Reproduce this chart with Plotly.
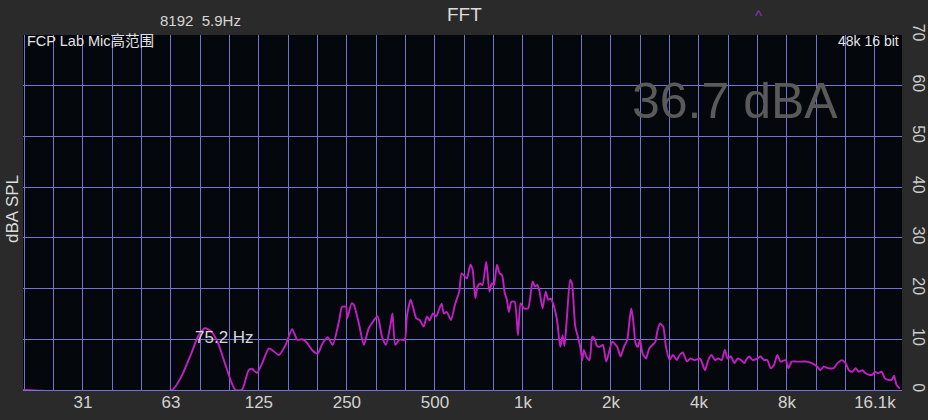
import plotly.graph_objects as go

# ---- data ----
freq_hz = [19.5, 63, 67.8, 73.4, 77.3, 81.7, 86.0, 90.7, 95.6, 101, 103.8, 109.3, 115.3, 118.2, 123,
           128.3, 135.2, 140.7, 146.4, 154.3, 162.4, 169, 175.7, 182.7, 190, 198.5, 206.4, 214.8, 223.4,
           235.4, 240.6, 248.3, 250.6, 259.5, 264, 274.7, 285.7, 297, 318.3, 329.5, 339.9, 353.7, 358,
           366, 377.5, 394, 401, 413, 420.5, 432, 443.5, 457.4, 469.6, 479.6, 492.3, 505.5, 513, 527,
           536.5, 548.5, 567.5, 585.5, 605.5, 617, 635, 643.5, 661, 673, 687.5, 699.5, 715, 727.5, 749,
           768.5, 783.5, 796, 815, 833, 848, 866.5, 881.5, 895.5, 913, 937, 961.5, 982, 1008, 1042, 1079,
           1099, 1119, 1137, 1168, 1196, 1220, 1244, 1267, 1308, 1342, 1367, 1388, 1415, 1451, 1472, 1510,
           1537, 1571, 1596, 1616, 1647, 1690, 1727, 1758, 1790, 1828, 1877, 1928, 1979, 2021, 2102, 2158,
           2216, 2274, 2317, 2348, 2383, 2430, 2474, 2515, 2566, 2636, 2704, 2777, 2837, 2888, 2943, 3019,
           3085, 3175, 3258, 3362, 3436, 3525, 3639, 3737, 3867, 4032, 4085, 4196, 4305, 4420, 4540, 4656,
           4784, 4908, 5012, 5147, 5287, 5423, 5569, 5720, 5796, 5947, 6103, 6333, 6502, 6674, 6852, 7036,
           7220, 7417, 7607, 7918, 8095, 8304, 8632, 8984, 9344, 9720, 10160, 10400, 10675, 11108, 11552,
           11924, 12338, 12700, 13030, 13386, 13741, 14097, 14491, 14872, 15253, 15672, 16000, 16416,
           16864, 17312, 17760, 18256, 18592, 18976, 19488]
level_db = [0, 0, 2.6, 7.2, 10.5, 12.2, 11.5, 9.2, 5.3, 1.3, 0, 0, 3.9, 4.2, 3.4,
            5.3, 8.2, 7.6, 6.9, 8.9, 12.0, 9.9, 10.0, 9.3, 7.9, 7.2, 9.2, 10.4, 8.9,
            13.8, 16.4, 16.4, 14.1, 17.1, 16.8, 13.1, 8.9, 12.2, 14.5, 10.5, 8.9, 13.4, 15.1,
            8.9, 9.9, 9.9, 14.5, 17.8, 16.4, 14.1, 13.8, 12.5, 14.5, 13.7, 15.1, 14.5, 15.4, 17.0,
            15.1, 15.4, 13.8, 16.8, 19.4, 23.0, 22.3, 22.0, 24.7, 23.7, 18.1, 20.4, 21.0, 20.7, 25.3,
            19.4, 21.0, 20.7, 24.7, 23.0, 22.7, 19.1, 17.8, 15.4, 17.4, 17.4, 10.8, 17.1, 16.1, 16.1, 21.4,
            20.4, 20.7, 19.7, 16.1, 19.4, 17.8, 18.0, 17.1, 13.8, 8.5, 10.8, 8.7, 14.5, 21.7, 21.0, 12.5,
            10.8, 8.5, 5.9, 7.9, 6.6, 5.9, 10.5, 10.1, 8.7, 8.5, 8.9, 5.6, 7.9, 9.5, 8.5, 6.6,
            8.5, 9.9, 13.8, 16.1, 13.8, 9.2, 8.5, 9.9, 7.2, 6.2, 8.2, 8.9, 9.5, 11.8, 13.1, 12.5,
            8.5, 5.9, 6.9, 5.9, 6.9, 7.4, 5.6, 6.2, 5.9, 6.2, 5.6, 3.9, 5.9, 6.9, 5.9, 6.2,
            5.9, 7.9, 6.2, 6.6, 5.3, 6.2, 5.9, 5.3, 5.9, 6.6, 5.9, 6.2, 6.6, 5.9, 5.9, 4.3,
            4.9, 6.9, 5.6, 5.9, 4.3, 5.6, 5.6, 5.6, 5.6, 5.3, 4.6, 3.9, 4.6, 4.3, 4.3,
            5.3, 5.9, 5.3, 3.9, 3.6, 4.3, 3.6, 3.9, 3.3, 3.0, 3.0, 3.6, 3.3,
            3.6, 2.3, 2.0, 2.0, 2.8, 1.0, 0.3]

x_tick_vals = [31.25, 62.5, 125, 250, 500, 1000, 2000, 4000, 8000, 16000]
x_tick_text = ["31", "63", "125", "250", "500", "1k", "2k", "4k", "8k", "16.1k"]
third_octave_grid = [1000 * 2 ** (k / 3) for k in range(-17, 15)]
y_tick_vals = [0, 10, 20, 30, 40, 50, 60, 70]

FONT = "Liberation Sans, Arial, Noto Sans CJK SC, sans-serif"
GRID = "rgb(116,114,214)"

fig = go.Figure()
fig.add_trace(go.Scatter(
    x=freq_hz, y=level_db, mode="lines",
    line=dict(color="#c41fc4", width=1.9, shape="spline", smoothing=0.6),
    hoverinfo="skip", showlegend=False,
))

fig.update_layout(
    width=928, height=420, autosize=False,
    margin=dict(l=23, r=26, t=35, b=30, autoexpand=False),
    paper_bgcolor="#2a2a2a",
    plot_bgcolor="#04070c",
    font=dict(family=FONT, color="#d0d0d0"),
    showlegend=False,
    xaxis=dict(
        type="log",
        range=[1.2900, 4.2967],
        tickmode="array", tickvals=x_tick_vals, ticktext=x_tick_text,
        tickfont=dict(size=17, color="#d2d2d2"),
        showgrid=True, gridcolor=GRID, gridwidth=1,
        minor=dict(tickmode="array", tickvals=third_octave_grid, showgrid=True,
                   gridcolor=GRID, gridwidth=1, ticklen=0),
        ticks="", zeroline=False, showline=False, fixedrange=True, automargin=False,
    ),
    yaxis=dict(
        range=[0, 70], side="right",
        tickmode="array", tickvals=y_tick_vals,
        tickangle=90,
        tickfont=dict(size=16, color="#cccccc"),
        showgrid=True, gridcolor=GRID, gridwidth=1,
        zeroline=True, zerolinecolor=GRID, zerolinewidth=1,
        ticks="outside", ticklen=4, tickcolor="rgba(0,0,0,0)",
        showline=False, fixedrange=True, automargin=False,
    ),
)

def px(xp):
    return (xp - 23) / 879.0

def py(yp):
    return (390 - yp) / 355.0

annos = [
    dict(text="FFT", x=px(464), y=py(14), size=19, color="#dcdcdc", xanchor="center"),
    dict(text="8192\u00a0 5.9Hz", x=px(200), y=py(20), size=15, color="#d6d6d6", xanchor="center"),
    dict(text="^", x=px(758), y=py(15), size=15, color="#8a32c8", xanchor="center"),
    dict(text="FCP Lab Mic高范围", x=px(25), y=py(41), size=14.5, color="#e4e4e4", xanchor="left"),
    dict(text="48k 16 bit", x=px(901), y=py(41), size=14, color="#e4e4e4", xanchor="right"),
    dict(text="36.7 dBA", x=px(735), y=py(101), size=50, color="#5a5a5a", xanchor="center"),
    dict(text="75.2 Hz", x=px(224), y=py(337), size=17, color="#d8d8d8", xanchor="center"),
]
for a in annos:
    fig.add_annotation(
        text=a["text"], x=a["x"], y=a["y"], xref="paper", yref="paper",
        xanchor=a["xanchor"], yanchor="middle", showarrow=False,
        font=dict(family=FONT, size=a["size"], color=a["color"]),
    )

fig.add_annotation(
    text="dBA SPL", x=px(12), y=py(209), xref="paper", yref="paper",
    xanchor="center", yanchor="middle", showarrow=False, textangle=-90,
    font=dict(family=FONT, size=17, color="#dcdcdc"),
)

fig.write_html(
    "out.html",
    config={"displayModeBar": False},
    post_script="document.body.style.margin='0';document.body.style.overflow='hidden';",
)
